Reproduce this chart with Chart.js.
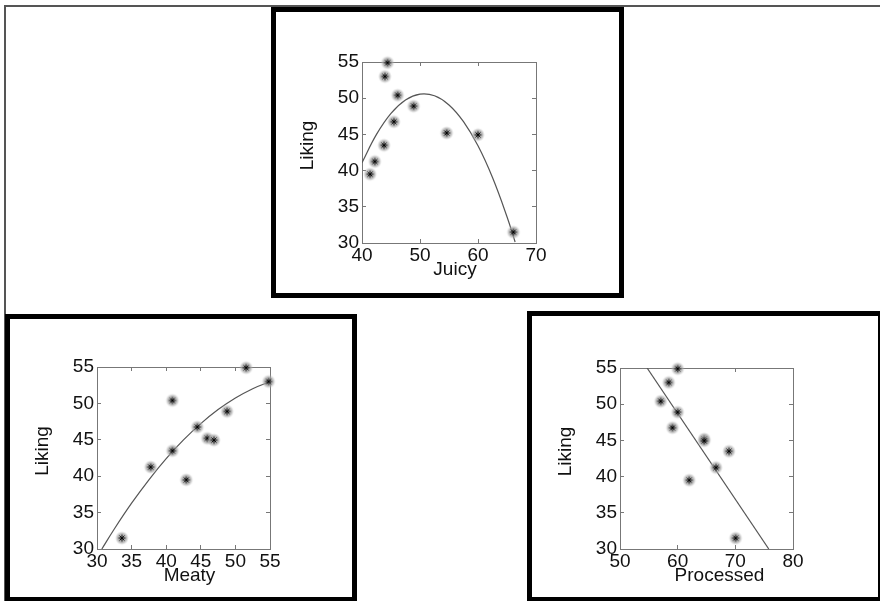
<!DOCTYPE html>
<html><head><meta charset="utf-8">
<script src="https://cdn.jsdelivr.net/npm/chart.js@4.4.1/dist/chart.umd.min.js"></script>
<style>
html,body{margin:0;padding:0;background:#fff;width:880px;height:601px;overflow:hidden;position:relative;}
.frame{position:absolute;left:4px;top:5px;width:900px;height:620px;border-top:2px solid #555;border-left:2px solid #555;}
.box{position:absolute;border:5px solid #000;box-sizing:border-box;z-index:2;}
.cw{position:absolute;}
</style></head><body>
<div class="frame"></div>
<div class="box" style="left:271px;top:7px;width:353px;height:291px"></div>
<div class="box" style="left:5px;top:314px;width:352px;height:288px"></div>
<div class="box" style="left:527px;top:311px;width:356px;height:291px"></div>
<div class="cw" style="left:282px;top:32px;width:284px;height:256px"><canvas id="cJuicy"></canvas></div>
<div class="cw" style="left:17px;top:337px;width:283px;height:257px"><canvas id="cMeaty"></canvas></div>
<div class="cw" style="left:540px;top:338px;width:283px;height:256px"><canvas id="cProc"></canvas></div>
<script>
// ---- data ----
const liking    = [39.5, 41.25, 43.5, 46.75, 50.4, 48.9, 53.0, 54.9, 45.2, 44.95, 31.5];
const juicy     = [41.4, 42.2, 43.8, 45.5, 46.15, 48.9, 43.95, 44.4, 54.6, 60.0, 66.1];
const meaty     = [42.9, 37.75, 40.9, 44.5, 40.9, 48.8, 54.8, 51.55, 45.95, 46.9, 33.6];
const processed = [62.0, 66.65, 68.9, 59.1, 57.05, 60.0, 58.45, 60.0, 64.6, 64.6, 70.05];

// fitted trend curves
const juicyFitX = [40, 42.5, 45, 47.5, 50, 52.5, 55, 57.5, 60, 62.5, 65, 66.4];
const juicyFitY = [41.1, 45.0, 47.9, 49.75, 50.56, 50.33, 49.07, 46.76, 43.42, 39.04, 33.63, 30.14];
const meatyFitX = [30.7, 32.5, 35, 37.5, 40, 42.5, 45, 47.5, 50, 52.5, 54.8];
const meatyFitY = [30.0, 32.75, 36.29, 39.51, 42.41, 44.98, 47.22, 49.15, 50.74, 52.02, 52.9];
const procFitX  = [54.7, 75.8];
const procFitY  = [55, 30];

const likingTicks = [30, 35, 40, 45, 50, 55];
const juicyTicks  = [40, 50, 60, 70];
const meatyTicks  = [30, 35, 40, 45, 50, 55];
const procTicks   = [50, 60, 70, 80];

// ---- rendering ----
const FONT = '"Liberation Sans", Arial, Helvetica, sans-serif';
function makeMarker(){
  const s = 16, m = s/2;
  const c = document.createElement('canvas'); c.width = s; c.height = s;
  const g = c.getContext('2d');
  const grd = g.createRadialGradient(m, m, 0, m, m, 7);
  grd.addColorStop(0, 'rgba(150,150,150,0.75)');
  grd.addColorStop(0.65, 'rgba(160,160,160,0.7)');
  grd.addColorStop(1, 'rgba(200,200,200,0)');
  g.fillStyle = grd; g.beginPath(); g.arc(m, m, 7, 0, Math.PI*2); g.fill();
  g.strokeStyle = '#000'; g.lineWidth = 1;
  const r = 3.5;
  g.beginPath();
  for (let k = 0; k < 4; k++) {
    const a = k*Math.PI/4;
    g.moveTo(m - r*Math.cos(a), m - r*Math.sin(a));
    g.lineTo(m + r*Math.cos(a), m + r*Math.sin(a));
  }
  g.stroke();
  return c;
}
const marker = makeMarker();

const axisTitles = {
  id: 'axisTitles',
  afterDraw(chart, args, o) {
    const {ctx, chartArea: a} = chart;
    ctx.save();
    ctx.font = '19px ' + FONT; ctx.fillStyle = '#111';
    ctx.textAlign = 'center'; ctx.textBaseline = 'middle';
    ctx.fillText(o.x, (a.left + a.right)/2 + o.xdx, a.bottom + o.xdy);
    ctx.translate(a.left + o.ydx, (a.top + a.bottom)/2 + o.ydy);
    ctx.rotate(-Math.PI/2);
    ctx.fillText(o.y, 0, 0);
    ctx.restore();
  }
};

function pts(xs, ys){ return xs.map((x, i) => ({x, y: ys[i]})); }

function axis(pos, ticks, showLabels, size){
  const horiz = pos === 'bottom' || pos === 'top';
  return {
    type: 'linear', position: pos,
    min: ticks[0], max: ticks[ticks.length-1],
    afterBuildTicks: s => { s.ticks = ticks.map(v => ({value: v})); },
    ticks: {display: showLabels, font: {size: 19, family: FONT}, color: '#111',
            padding: horiz ? 5 : 7, maxRotation: 0, autoSkip: false},
    grid: {drawOnChartArea: false, drawTicks: true, tickLength: -4, color: '#777', lineWidth: 1},
    border: {display: true, color: '#777', width: 1},
    afterFit: s => { if (horiz) s.height = size; else s.width = size; }
  };
}

function panel(id, xs, ys, fx, fy, xTicks, xLabel, xdx, curved){
  new Chart(document.getElementById(id), {
    type: 'scatter',
    data: {datasets: [
      {data: pts(xs, ys), pointStyle: marker, pointRadius: 8, order: 1, clip: false},
      {data: pts(fx, fy), showLine: true, pointRadius: 0, borderColor: '#555',
       borderWidth: 1.2, tension: curved ? 0.4 : 0, order: 2}
    ]},
    options: {
      responsive: true, maintainAspectRatio: false, animation: false,
      devicePixelRatio: 1,
      layout: {padding: 0},
      scales: {
        x: axis('bottom', xTicks, true, 45),
        y: axis('left', likingTicks, true, 80),
        x2: axis('top', xTicks, false, 30),
        y2: axis('right', likingTicks, false, 30)
      },
      plugins: {
        legend: {display: false}, tooltip: {enabled: false},
        axisTitles: {x: xLabel, y: 'Liking', xdx: xdx, xdy: 27, ydx: -54, ydy: -7}
      }
    },
    plugins: [axisTitles]
  });
}

panel('cJuicy', juicy, liking, juicyFitX, juicyFitY, juicyTicks, 'Juicy', 6, true);
panel('cMeaty', meaty, liking, meatyFitX, meatyFitY, meatyTicks, 'Meaty', 6, true);
panel('cProc', processed, liking, procFitX, procFitY, procTicks, 'Processed', 13, false);
</script>
</body></html>
